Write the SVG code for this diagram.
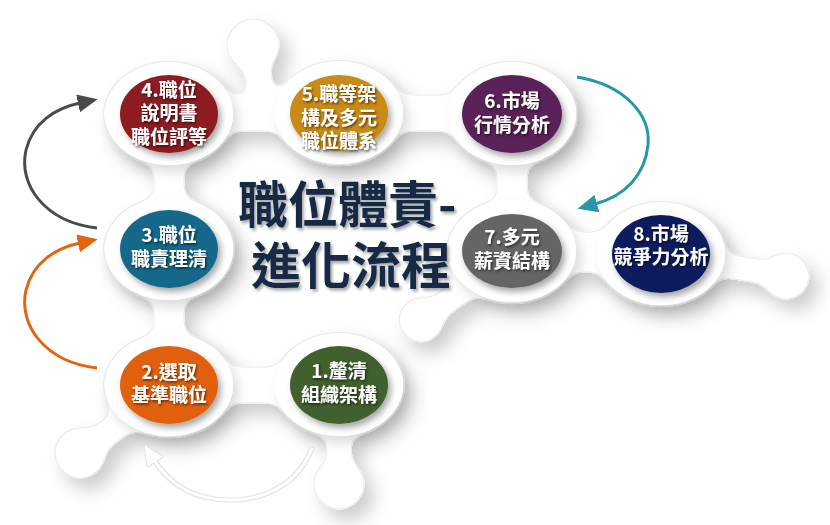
<svg xmlns="http://www.w3.org/2000/svg" width="830" height="525" viewBox="0 0 830 525">
  <defs>
    <style>
      .blob { fill: #ffffff; }
      .neck { stroke: #ffffff; fill: none; stroke-linecap: round; }
      .halo { fill: #ffffff; }
      .node-text { font-family: "Noto Sans CJK TC", "Noto Sans CJK SC", sans-serif; font-size: 19px; font-weight: 700; fill: #ffffff; text-anchor: middle; }
      .title { font-family: "Noto Sans CJK TC", "Noto Sans CJK SC", sans-serif; font-size: 50px; font-weight: 700; fill: #152a45; }
      .arrow { fill: none; stroke-width: 3; }
    </style>
    <filter id="goo" filterUnits="userSpaceOnUse" x="0" y="0" width="830" height="525">
      <feGaussianBlur in="SourceGraphic" stdDeviation="7" result="b"/>
      <feColorMatrix in="b" type="matrix" values="1 0 0 0 0  0 1 0 0 0  0 0 1 0 0  0 0 0 22 -10" result="g"/>
      <feGaussianBlur in="g" stdDeviation="9" result="sb"/>
      <feOffset in="sb" dx="9" dy="11" result="so"/>
      <feFlood flood-color="#000000" flood-opacity="0.2"/>
      <feComposite in2="so" operator="in" result="shadow"/>
      <feMorphology in="g" operator="erode" radius="1" result="er"/>
      <feFlood flood-color="#ececec"/>
      <feComposite in2="g" operator="in" result="edgefill"/>
      <feComposite in="edgefill" in2="er" operator="out" result="edge"/>
      <feMerge>
        <feMergeNode in="shadow"/>
        <feMergeNode in="g"/>
        <feMergeNode in="edge"/>
      </feMerge>
    </filter>
    <filter id="haloShadow" x="-30%" y="-30%" width="170%" height="170%">
      <feDropShadow dx="5" dy="7" stdDeviation="6" flood-color="#000000" flood-opacity="0.14"/>
    </filter>
    <filter id="nodeShadow" x="-20%" y="-20%" width="150%" height="150%">
      <feDropShadow dx="3" dy="4" stdDeviation="3" flood-color="#000000" flood-opacity="0.35"/>
    </filter>
    <filter id="textShadow" x="-10%" y="-30%" width="130%" height="170%">
      <feDropShadow dx="1.2" dy="1.5" stdDeviation="0.8" flood-color="#000000" flood-opacity="0.6"/>
    </filter>
    <filter id="titleShadow" x="-10%" y="-20%" width="130%" height="150%">
      <feDropShadow dx="2" dy="2.5" stdDeviation="1.5" flood-color="#000000" flood-opacity="0.35"/>
    </filter>
    <filter id="whiteOutline" x="-20%" y="-20%" width="140%" height="140%">
      <feMorphology in="SourceAlpha" operator="dilate" radius="1" result="d"/>
      <feFlood flood-color="#e4e4e4"/>
      <feComposite in2="d" operator="in" result="o"/>
      <feMerge><feMergeNode in="o"/><feMergeNode in="SourceGraphic"/></feMerge>
    </filter>
    <marker id="headGray" markerUnits="userSpaceOnUse" markerWidth="22" markerHeight="20" refX="2" refY="9" orient="auto">
      <path d="M0,0 L20,9 L0,18 Z" fill="#4a4a4a"/>
    </marker>
    <marker id="headOrange" markerUnits="userSpaceOnUse" markerWidth="22" markerHeight="20" refX="2" refY="9" orient="auto">
      <path d="M0,0 L20,9 L0,18 Z" fill="#e3640f"/>
    </marker>
    <marker id="headTeal" markerUnits="userSpaceOnUse" markerWidth="22" markerHeight="20" refX="2" refY="9" orient="auto">
      <path d="M0,0 L20,9 L0,18 Z" fill="#2896ad"/>
    </marker>
    <marker id="headWhite" markerUnits="userSpaceOnUse" markerWidth="22" markerHeight="20" refX="2" refY="9" orient="auto">
      <path d="M0,0 L19,9 L0,18 Z" fill="#ffffff"/>
    </marker>
  </defs>

  <rect x="0" y="0" width="830" height="525" fill="#ffffff"/>

  <!-- background white blob -->
  <g id="blob" filter="url(#goo)">
    <ellipse class="blob" cx="169" cy="114" rx="66" ry="53"/>
    <ellipse class="blob" cx="339" cy="113" rx="66" ry="53"/>
    <ellipse class="blob" cx="512" cy="114" rx="66" ry="53"/>
    <ellipse class="blob" cx="169" cy="249" rx="66" ry="53"/>
    <ellipse class="blob" cx="512" cy="251" rx="66" ry="53"/>
    <ellipse class="blob" cx="661" cy="254" rx="66" ry="53"/>
    <ellipse class="blob" cx="169" cy="385" rx="66" ry="53"/>
    <ellipse class="blob" cx="339" cy="385" rx="66" ry="53"/>
    <circle class="blob" cx="253" cy="45" r="27"/>
    <circle class="blob" cx="80" cy="453" r="26"/>
    <circle class="blob" cx="339" cy="484" r="26"/>
    <circle class="blob" cx="421" cy="320" r="23"/>
    <circle class="blob" cx="786" cy="276" r="24"/>
    <line class="neck" x1="253" y1="45" x2="262" y2="100" stroke-width="26"/>
    <line class="neck" x1="210" y1="113" x2="300" y2="113" stroke-width="36"/>
    <line class="neck" x1="380" y1="113" x2="470" y2="113" stroke-width="36"/>
    <line class="neck" x1="169" y1="150" x2="169" y2="215" stroke-width="30"/>
    <line class="neck" x1="169" y1="285" x2="169" y2="350" stroke-width="30"/>
    <line class="neck" x1="210" y1="385" x2="300" y2="385" stroke-width="36"/>
    <line class="neck" x1="512" y1="150" x2="512" y2="215" stroke-width="30"/>
    <line class="neck" x1="550" y1="252" x2="620" y2="252" stroke-width="40"/>
    <line class="neck" x1="125" y1="420" x2="80" y2="453" stroke-width="26"/>
    <line class="neck" x1="339" y1="430" x2="339" y2="484" stroke-width="24"/>
    <line class="neck" x1="470" y1="285" x2="421" y2="320" stroke-width="24"/>
    <line class="neck" x1="705" y1="262" x2="786" y2="276" stroke-width="24"/>
  </g>

  <!-- halos -->
  <g id="halos" filter="url(#haloShadow)">
    <ellipse class="halo" cx="169" cy="114" rx="64" ry="51"/>
    <ellipse class="halo" cx="339" cy="113" rx="64" ry="51"/>
    <ellipse class="halo" cx="512" cy="114" rx="64" ry="51"/>
    <ellipse class="halo" cx="169" cy="249" rx="64" ry="51"/>
    <ellipse class="halo" cx="512" cy="251" rx="64" ry="51"/>
    <ellipse class="halo" cx="661" cy="254" rx="64" ry="51"/>
    <ellipse class="halo" cx="169" cy="385" rx="64" ry="51"/>
    <ellipse class="halo" cx="339" cy="385" rx="64" ry="51"/>
  </g>

  <!-- connectors -->
  <g id="connectors">
    <path class="arrow" d="M97,228 C45,222 18,185 26,150 C33,122 56,108 80,103" stroke="#4a4a4a" marker-end="url(#headGray)"/>
    <path class="arrow" d="M97,368 C45,362 18,325 26,290 C33,262 56,248 80,243" stroke="#e3640f" marker-end="url(#headOrange)"/>
    <path class="arrow" d="M577,77 C625,85 651,115 648,145 C645,175 625,196 595,204" stroke="#2896ad" marker-end="url(#headTeal)"/>
    <g filter="url(#whiteOutline)">
      <path class="arrow" d="M312,448 C300,480 270,500 230,500 C195,500 170,485 154,460" stroke="#ffffff" marker-end="url(#headWhite)"/>
    </g>
  </g>

  <!-- title -->
  <g id="title" filter="url(#titleShadow)">
    <text class="title"><tspan x="238" y="223">職位體責-</tspan><tspan x="251" y="284">進化流程</tspan></text>
  </g>

  <!-- nodes -->
  <g id="node1">
    <ellipse cx="339" cy="385" rx="49" ry="39" fill="#41602e" filter="url(#nodeShadow)"/>
    <text class="node-text" filter="url(#textShadow)"><tspan x="339" y="378">1.釐清</tspan><tspan x="339" y="402">組織架構</tspan></text>
  </g>
  <g id="node2">
    <ellipse cx="169" cy="385" rx="49" ry="39" fill="#e0600e" filter="url(#nodeShadow)"/>
    <text class="node-text" filter="url(#textShadow)"><tspan x="169" y="378.5">2.選取</tspan><tspan x="169" y="402">基準職位</tspan></text>
  </g>
  <g id="node3">
    <ellipse cx="169" cy="249" rx="49" ry="39" fill="#14678a" filter="url(#nodeShadow)"/>
    <text class="node-text" filter="url(#textShadow)"><tspan x="169" y="241.5">3.職位</tspan><tspan x="169" y="265.5">職責理清</tspan></text>
  </g>
  <g id="node4">
    <ellipse cx="169" cy="114" rx="49" ry="39" fill="#8c1b20" filter="url(#nodeShadow)"/>
    <text class="node-text" filter="url(#textShadow)"><tspan x="169" y="96.5">4.職位</tspan><tspan x="169" y="120">說明書</tspan><tspan x="169" y="143.5">職位評等</tspan></text>
  </g>
  <g id="node5">
    <ellipse cx="339" cy="113" rx="49" ry="38" fill="#c98a14" filter="url(#nodeShadow)"/>
    <text class="node-text" filter="url(#textShadow)"><tspan x="339" y="101">5.職等架</tspan><tspan x="339" y="124.5">構及多元</tspan><tspan x="339" y="148">職位體系</tspan></text>
  </g>
  <g id="node6">
    <ellipse cx="512" cy="114" rx="50" ry="39" fill="#5a2259" filter="url(#nodeShadow)"/>
    <text class="node-text" filter="url(#textShadow)"><tspan x="512" y="107.5">6.市場</tspan><tspan x="512" y="131.5">行情分析</tspan></text>
  </g>
  <g id="node7">
    <ellipse cx="512" cy="251" rx="50" ry="37" fill="#666566" filter="url(#nodeShadow)"/>
    <text class="node-text" filter="url(#textShadow)"><tspan x="512" y="243.5">7.多元</tspan><tspan x="512" y="267.5">薪資結構</tspan></text>
  </g>
  <g id="node8">
    <ellipse cx="661" cy="254" rx="49" ry="39" fill="#0d1e5e" filter="url(#nodeShadow)"/>
    <text class="node-text" filter="url(#textShadow)"><tspan x="661" y="241">8.市場</tspan><tspan x="661" y="263.5">競爭力分析</tspan></text>
  </g>
</svg>
